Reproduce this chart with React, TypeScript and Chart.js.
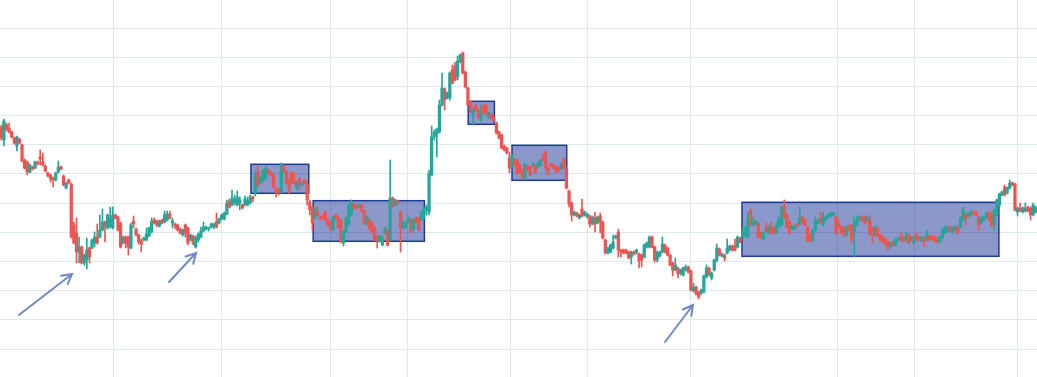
import { useEffect, useRef } from "react";
import { Chart, registerables } from "chart.js";

Chart.register(...registerables);

// Candle prices (arbitrary price units), one entry per session
const OPEN = [
  273,260,275,272,268,262,254,261,255,240,
  238,228,233,232,238,243,238,234,227,225,
  222,220,228,233,224,212,220,216,175,167,
  148,153,137,140,152,152,157,163,163,170,
  178,172,174,172,185,183,177,157,163,163,
  152,179,171,165,159,160,160,164,168,180,
  179,174,180,178,180,186,177,176,175,171,
  165,175,172,160,164,153,160,163,169,171,
  171,173,173,178,177,181,181,186,199,195,
  197,195,197,195,195,195,197,203,207,228,
  217,219,222,230,227,225,211,211,208,234,
  228,217,227,219,212,221,215,220,216,198,
  193,182,188,183,184,188,180,178,170,185,
  183,180,157,168,176,185,196,194,193,195,
  189,176,180,177,172,164,159,155,167,170,
  160,202,195,199,188,172,173,178,180,170,
  182,182,180,182,190,188,225,263,266,268,
  295,311,302,302,330,334,323,338,347,328,
  312,298,286,295,290,280,294,295,282,286,
  282,277,268,265,254,252,242,233,240,240,
  235,230,222,234,233,234,235,233,235,242,
  248,232,236,235,233,232,231,241,232,209,
  197,185,187,182,191,185,183,184,176,182,
  177,184,178,160,147,148,152,162,168,150,
  150,150,148,143,148,147,146,145,143,153,
  153,163,153,140,144,148,155,152,145,137,
  130,132,127,125,130,133,129,109,113,108,
  107,108,123,132,122,130,140,151,144,145,
  147,150,154,154,153,162,163,164,163,190,
  175,176,177,167,161,171,167,173,172,167,
  173,175,194,185,178,171,171,176,176,183,
  180,173,165,159,170,177,182,175,180,183,
  184,185,183,175,173,172,165,174,175,168,
  175,180,183,183,179,180,172,165,172,165,
  163,161,158,153,158,155,160,163,163,160,
  165,163,157,165,163,159,162,160,164,164,
  163,162,158,162,167,169,173,168,170,173,
  173,180,186,184,185,188,188,183,177,180,
  183,187,185,175,185,195,205,213,207,212,
  217,216,188,192,188,189,193,192,185,188,
];

const CLOSE = [
  262,279,271,268,263,257,263,257,239,232,
  228,235,231,238,236,241,235,229,224,221,
  220,227,233,231,215,217,217,163,157,148,
  153,137,145,150,143,160,163,157,170,178,
  173,185,182,185,182,170,153,163,157,153,
  175,176,165,158,156,162,166,172,179,177,
  175,179,177,185,186,182,179,174,170,167,
  170,167,157,165,157,162,166,169,173,173,
  172,176,176,173,181,185,187,197,193,202,
  201,203,200,192,201,200,203,201,226,215,
  223,230,232,227,225,213,208,208,236,229,
  217,210,217,217,218,215,217,217,200,190,
  177,192,185,181,182,180,175,170,183,182,
  173,159,168,182,195,198,192,192,195,189,
  177,183,172,168,160,159,164,162,172,155,
  202,194,200,197,172,178,177,182,168,180,
  178,170,188,192,193,227,263,268,271,295,
  312,300,307,327,317,320,339,345,327,313,
  295,288,290,290,283,287,287,286,287,282,
  279,267,262,252,250,247,232,245,235,227,
  228,222,236,230,225,235,228,237,240,240,
  232,229,234,232,228,229,236,232,212,196,
  185,188,184,185,184,188,186,176,183,176,
  183,178,162,147,152,155,158,164,150,148,
  147,147,142,148,146,150,139,140,155,157,
  163,153,140,148,148,156,148,145,135,130,
  135,126,130,132,133,128,110,113,106,103,
  110,124,132,125,127,140,152,145,146,142,
  152,154,150,150,163,158,168,172,182,175,
  179,179,163,162,167,169,173,167,167,174,
  182,193,183,173,167,174,174,174,183,177,
  175,159,159,170,179,180,178,182,183,185,
  187,187,167,173,167,165,173,170,160,175,
  180,183,180,177,183,166,165,173,164,160,
  158,156,153,157,155,160,162,160,159,163,
  157,160,163,160,160,163,159,165,160,161,
  159,158,163,170,173,173,169,172,173,167,
  182,190,182,187,188,186,185,176,182,183,
  187,180,174,190,200,206,208,205,212,217,
  215,190,192,189,192,192,189,185,195,192,
];

const HIGH = [
  275,281,277,277,269,263,264,262,256,241,
  239,236,234,239,239,250,247,235,228,226,
  223,228,239,234,225,218,221,217,178,182,
  163,154,146,162,153,161,168,176,185,191,
  179,186,193,193,186,184,178,164,164,164,
  177,184,172,166,161,163,172,173,182,182,
  180,180,181,189,189,189,182,177,176,172,
  171,176,173,166,165,164,167,173,178,174,
  173,177,177,187,182,186,188,200,201,210,
  205,209,203,196,204,203,205,204,230,234,
  224,231,234,231,228,226,212,212,237,235,
  229,221,228,227,219,222,218,221,219,200,
  194,193,193,184,185,189,181,179,184,186,
  184,181,169,183,196,200,197,195,197,196,
  190,184,181,178,173,165,165,164,173,171,
  240,203,201,200,189,179,178,183,181,181,
  183,183,189,193,195,230,274,270,272,300,
  327,312,308,328,335,338,344,346,348,329,
  313,299,292,296,291,295,296,296,288,287,
  283,278,269,266,255,253,248,246,241,241,
  236,231,237,235,234,238,236,238,241,246,
  249,233,237,236,234,233,237,242,233,210,
  198,189,188,186,201,189,187,185,184,188,
  184,187,179,161,153,156,165,165,171,151,
  151,151,149,149,149,151,147,146,156,158,
  164,164,154,149,149,163,156,153,146,138,
  142,133,131,133,135,134,130,117,114,109,
  111,125,135,133,128,141,156,152,147,146,
  161,155,155,161,164,163,171,173,188,191,
  183,180,178,168,168,177,175,178,173,178,
  183,194,200,186,179,175,175,177,193,184,
  181,174,166,171,183,181,188,188,184,187,
  188,188,184,180,174,173,174,175,176,183,
  184,184,184,184,184,184,173,174,173,166,
  164,162,159,158,159,162,163,167,164,168,
  166,164,164,167,164,164,163,170,165,165,
  164,163,164,171,174,174,174,173,174,174,
  183,193,187,188,190,189,189,184,183,184,
  188,189,188,191,201,207,209,215,213,220,
  218,217,193,197,193,197,194,193,197,194,
];

const LOW = [
  260,254,269,267,262,256,249,256,238,231,
  225,227,230,231,235,235,234,228,223,218,
  213,219,227,230,214,211,216,162,156,137,
  137,136,135,131,137,151,153,156,162,169,
  158,171,172,171,181,169,152,156,152,145,
  151,172,164,156,148,159,159,163,167,176,
  173,173,176,177,179,181,172,171,169,166,
  164,163,155,159,155,152,158,162,168,170,
  169,172,171,172,176,180,180,185,192,194,
  195,194,190,191,194,194,196,198,204,213,
  216,218,221,226,224,212,203,205,207,228,
  216,206,216,216,210,210,214,216,195,185,
  170,181,184,180,181,179,174,169,169,180,
  172,157,154,167,175,184,190,191,192,188,
  176,175,170,167,159,152,158,154,166,154,
  159,193,194,196,148,171,172,177,167,169,
  177,169,179,181,185,185,224,260,243,267,
  294,290,301,300,316,319,320,337,326,312,
  294,287,275,289,282,279,286,285,281,281,
  278,266,261,251,249,246,227,232,234,226,
  227,221,221,229,224,233,227,232,234,239,
  229,225,233,231,227,228,230,231,211,193,
  179,184,183,181,183,184,182,173,175,168,
  176,167,161,146,146,147,151,161,143,143,
  146,146,141,136,145,146,132,133,142,152,
  152,152,138,138,143,147,147,144,134,124,
  129,122,125,124,129,127,109,108,105,101,
  105,107,122,124,120,129,138,144,143,139,
  146,149,149,149,152,157,162,163,162,174,
  174,175,162,161,160,168,166,166,166,166,
  172,174,182,172,166,170,170,173,175,176,
  174,158,158,158,169,176,177,174,179,182,
  183,184,166,172,166,163,164,169,157,143,
  174,179,179,176,178,165,157,164,163,159,
  157,155,150,152,154,154,159,159,158,159,
  156,159,156,159,159,158,153,159,159,160,
  158,157,157,161,166,168,168,167,169,166,
  172,179,175,183,184,185,184,170,176,179,
  182,179,173,170,184,193,204,204,206,211,
  214,189,184,188,187,188,188,180,184,187,
];

// Vertical grid lines at session positions, horizontal grid lines at price levels
const X_GRID = [43.1, 84.75, 126.8, 156.5, 196.6, 226.3, 266.0, 322.4, 352.1, 391.8];
const Y_GRID = [372, 342.8, 313.6, 284.5, 255.3, 226.1, 196.9, 167.7, 138.6, 109.4, 80.2, 51.0];

// Consolidation zones: session range and price range
const BOX_FROM = [96.3, 120.3, 180.1, 197.0, 285.7];
const BOX_TO = [118.6, 163.2, 190.2, 218.1, 384.8];
const BOX_TOP = [235.7, 199.3, 298.7, 254.7, 197.7];
const BOX_BOTTOM = [206.7, 158.7, 275.7, 219.7, 143.7];

// Arrow annotations: start (session, price) to end (session, price)
const ARROW_X0 = [6.8, 64.7, 256.0];
const ARROW_Y0 = [85, 118, 58];
const ARROW_X1 = [27.3, 75.1, 266.8];
const ARROW_Y1 = [126, 147, 95];

const UP = "#26a69a";
const DOWN = "#ef5350";
const GRID = "#dfe7ef";

const annotationPlugin = {
  id: "zones",
  beforeDatasetsDraw(chart: any) {
    const { ctx, scales } = chart;
    const x = scales.x;
    const y = scales.y;
    ctx.save();
    for (let i = 0; i < BOX_FROM.length; i++) {
      const l = x.getPixelForValue(BOX_FROM[i]);
      const r = x.getPixelForValue(BOX_TO[i]);
      const t = y.getPixelForValue(BOX_TOP[i]);
      const b = y.getPixelForValue(BOX_BOTTOM[i]);
      ctx.fillStyle = "rgba(25,50,150,0.5)";
      ctx.fillRect(l, t, r - l, b - t);
      ctx.strokeStyle = "#1c3c98";
      ctx.lineWidth = 1.5;
      ctx.strokeRect(l, t, r - l, b - t);
    }
    ctx.restore();
  },
  afterDatasetsDraw(chart: any) {
    const { ctx, scales } = chart;
    const x = scales.x;
    const y = scales.y;
    ctx.save();
    ctx.strokeStyle = "#6f8acb";
    ctx.lineWidth = 2;
    ctx.lineCap = "round";
    for (let i = 0; i < ARROW_X0.length; i++) {
      const x0 = x.getPixelForValue(ARROW_X0[i]);
      const y0 = y.getPixelForValue(ARROW_Y0[i]);
      const x1 = x.getPixelForValue(ARROW_X1[i]);
      const y1 = y.getPixelForValue(ARROW_Y1[i]);
      const ang = Math.atan2(y1 - y0, x1 - x0);
      const head = 11;
      ctx.beginPath();
      ctx.moveTo(x0, y0);
      ctx.lineTo(x1, y1);
      ctx.moveTo(x1 - head * Math.cos(ang - 0.5), y1 - head * Math.sin(ang - 0.5));
      ctx.lineTo(x1, y1);
      ctx.lineTo(x1 - head * Math.cos(ang + 0.5), y1 - head * Math.sin(ang + 0.5));
      ctx.stroke();
    }
    ctx.restore();
  },
};

export default function App() {
  const ref = useRef<HTMLCanvasElement | null>(null);

  useEffect(() => {
    if (!ref.current) return;
    const colorOf = (i: number) => (CLOSE[i] >= OPEN[i] ? UP : DOWN);
    const bodies = OPEN.map((o, i) => ({ x: i, y: [o, CLOSE[i]] }));
    const wicks = LOW.map((l, i) => ({ x: i, y: [l, HIGH[i]] }));

    const chart = new Chart(ref.current, {
      type: "bar",
      data: {
        datasets: [
          {
            data: bodies as any,
            backgroundColor: (c: any) => colorOf(c.dataIndex),
            borderWidth: 0,
            grouped: false,
            order: 0,
            minBarLength: 1,
            categoryPercentage: 1,
            barPercentage: 1,
          },
          {
            data: wicks as any,
            backgroundColor: (c: any) => colorOf(c.dataIndex),
            borderWidth: 0,
            grouped: false,
            order: 1,
            barThickness: 1,
          },
        ],
      },
      options: {
        animation: false,
        responsive: false,
        maintainAspectRatio: false,
        layout: { padding: 0 },
        plugins: { legend: { display: false }, tooltip: { enabled: false } },
        scales: {
          x: {
            type: "linear",
            min: -0.5,
            max: OPEN.length - 0.5,
            offset: false,
            afterBuildTicks: (s: any) => {
              s.ticks = X_GRID.map((v) => ({ value: v }));
            },
            ticks: { display: false },
            grid: { color: GRID, drawTicks: false, lineWidth: 1, offset: false },
            border: { display: false },
          },
          y: {
            type: "linear",
            min: 23,
            max: 400,
            afterBuildTicks: (s: any) => {
              s.ticks = Y_GRID.map((v) => ({ value: v }));
            },
            ticks: { display: false },
            grid: { color: GRID, drawTicks: false, lineWidth: 1, offset: false },
            border: { display: false },
          },
        },
      },
      plugins: [annotationPlugin],
    });
    return () => chart.destroy();
  }, []);

  return (
    <div style={{ position: "fixed", left: 0, top: 0, width: 1037, height: 377, background: "#fff" }}>
      <canvas ref={ref} width={1037} height={377} style={{ display: "block" }} />
    </div>
  );
}
